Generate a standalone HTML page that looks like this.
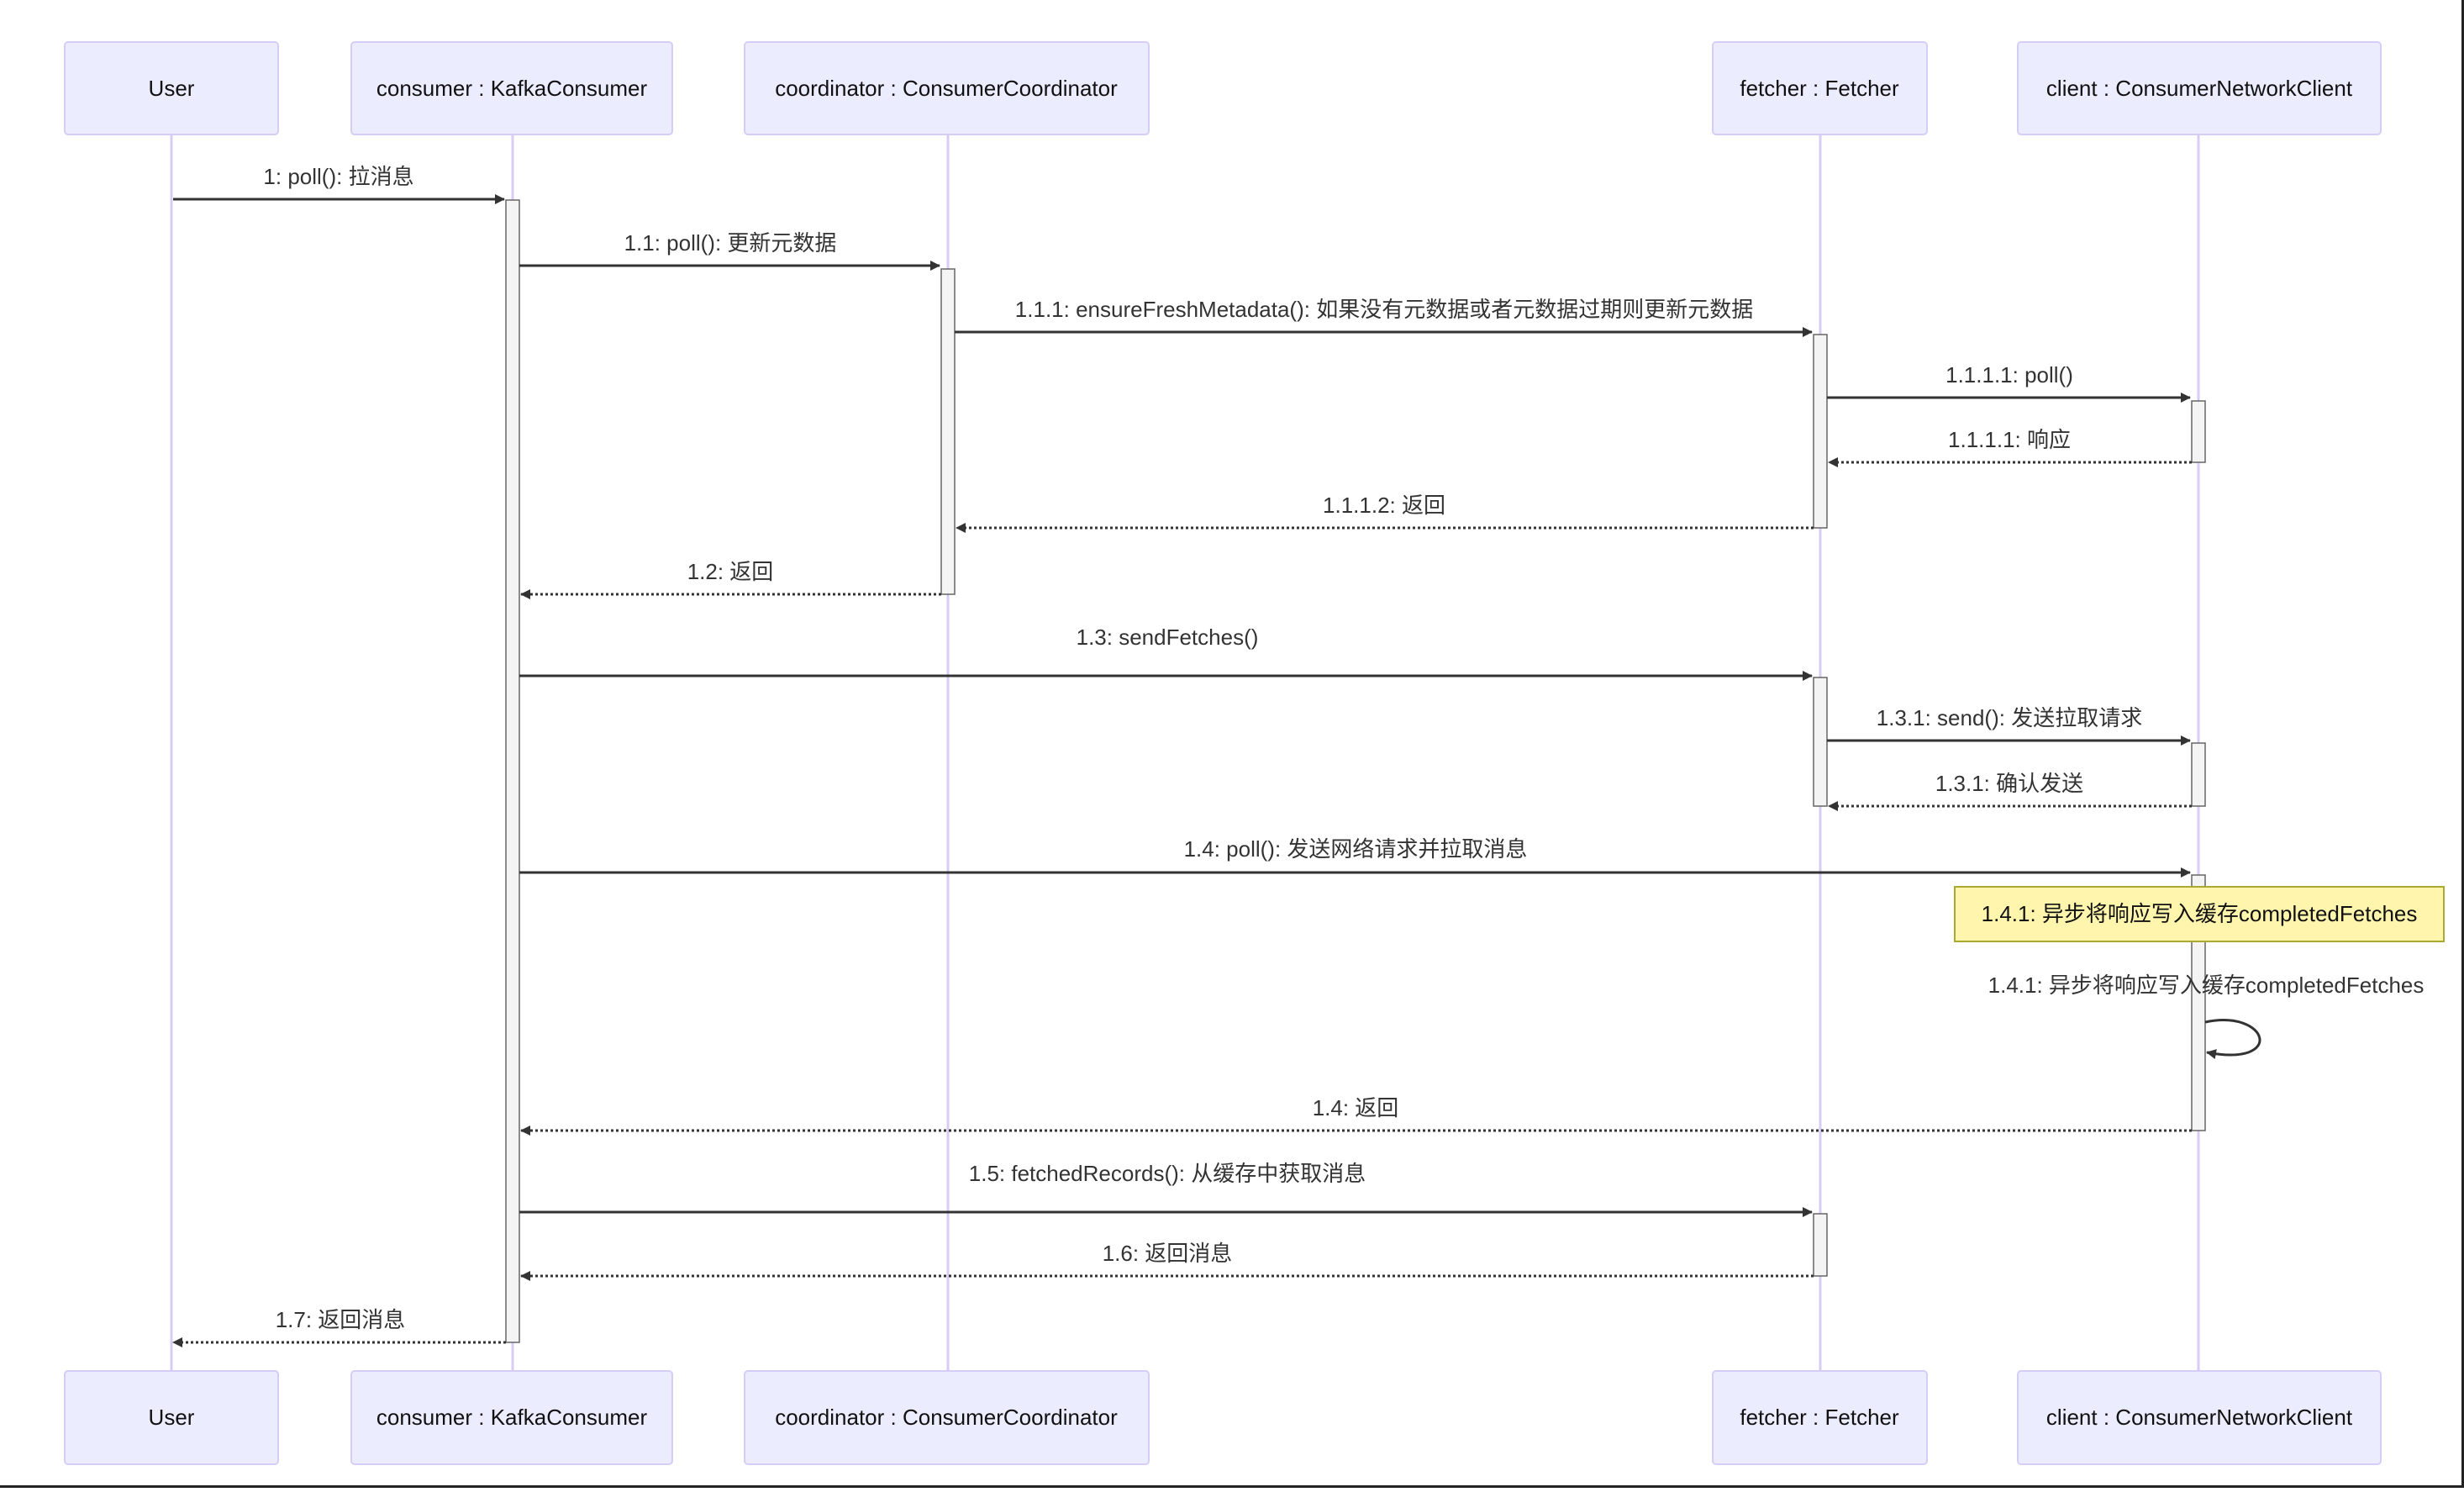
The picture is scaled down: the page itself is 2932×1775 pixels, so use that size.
<!DOCTYPE html>
<html><head><meta charset="utf-8"><style>
html,body{margin:0;padding:0;background:#fff;}
body{width:2932px;height:1770px;overflow:hidden;position:relative;}
svg text{font-family:"Liberation Sans","Noto Sans CJK SC",sans-serif;font-size:26px;fill:#333;}
</style></head><body>
<svg width="2932" height="1770" viewBox="0 0 2932 1770" xmlns="http://www.w3.org/2000/svg">
<defs>
<marker id="ah" markerWidth="12" markerHeight="12" refX="11" refY="6" orient="auto" markerUnits="userSpaceOnUse">
<path d="M0,0 L12,6 L0,12 Z" fill="#333"/></marker>
</defs>
<rect x="0" y="0" width="2932" height="1770" fill="#fff"/>
<line x1="0" y1="1768.5" x2="2932" y2="1768.5" stroke="#222" stroke-width="3"/>
<line x1="2930.5" y1="0" x2="2930.5" y2="1770" stroke="#222" stroke-width="3"/>
<g stroke="#d8ccf5" stroke-width="3">
<line x1="204" y1="159" x2="204" y2="1632"/>
<line x1="610" y1="159" x2="610" y2="1632"/>
<line x1="1128" y1="159" x2="1128" y2="1632"/>
<line x1="2166" y1="159" x2="2166" y2="1632"/>
<line x1="2616" y1="159" x2="2616" y2="1632"/>
</g>
<g fill="#ececff" stroke="#d6cdf6" stroke-width="2">
<rect x="77" y="50" width="254" height="110" rx="4"/>
<rect x="418" y="50" width="382" height="110" rx="4"/>
<rect x="886" y="50" width="481" height="110" rx="4"/>
<rect x="2038" y="50" width="255" height="110" rx="4"/>
<rect x="2401" y="50" width="432" height="110" rx="4"/>
<rect x="77" y="1631" width="254" height="111" rx="4"/>
<rect x="418" y="1631" width="382" height="111" rx="4"/>
<rect x="886" y="1631" width="481" height="111" rx="4"/>
<rect x="2038" y="1631" width="255" height="111" rx="4"/>
<rect x="2401" y="1631" width="432" height="111" rx="4"/>
</g>
<g text-anchor="middle" dominant-baseline="central">
<text x="204" y="105" style="fill:#111">User</text>
<text x="609" y="105" style="fill:#111">consumer : KafkaConsumer</text>
<text x="1126" y="105" style="fill:#111">coordinator : ConsumerCoordinator</text>
<text x="2165" y="105" style="fill:#111">fetcher : Fetcher</text>
<text x="2617" y="105" style="fill:#111">client : ConsumerNetworkClient</text>
<text x="204" y="1686" style="fill:#111">User</text>
<text x="609" y="1686" style="fill:#111">consumer : KafkaConsumer</text>
<text x="1126" y="1686" style="fill:#111">coordinator : ConsumerCoordinator</text>
<text x="2165" y="1686" style="fill:#111">fetcher : Fetcher</text>
<text x="2617" y="1686" style="fill:#111">client : ConsumerNetworkClient</text>
</g>
<g fill="#f4f4f4" stroke="#666" stroke-width="1.5">
<rect x="602" y="238" width="16" height="1359"/>
<rect x="1120" y="320" width="16" height="387"/>
<rect x="2158" y="398" width="16" height="230"/>
<rect x="2158" y="806" width="16" height="153"/>
<rect x="2158" y="1444" width="16" height="74"/>
<rect x="2608" y="477" width="16" height="73"/>
<rect x="2608" y="884" width="16" height="75"/>
<rect x="2608" y="1041" width="16" height="304"/>
</g>
<g stroke="#333" stroke-width="3" fill="none" marker-end="url(#ah)">
<line x1="206" y1="237" x2="600" y2="237"/>
<line x1="618" y1="316" x2="1118" y2="316"/>
<line x1="1136" y1="395" x2="2156" y2="395"/>
<line x1="2174" y1="473" x2="2606" y2="473"/>
<line x1="2608" y1="550" x2="2176" y2="550" stroke-dasharray="3,3"/>
<line x1="2158" y1="628" x2="1138" y2="628" stroke-dasharray="3,3"/>
<line x1="1120" y1="707" x2="620" y2="707" stroke-dasharray="3,3"/>
<line x1="618" y1="804" x2="2156" y2="804"/>
<line x1="2174" y1="881" x2="2606" y2="881"/>
<line x1="2608" y1="959" x2="2176" y2="959" stroke-dasharray="3,3"/>
<line x1="618" y1="1038" x2="2606" y2="1038"/>
<line x1="2608" y1="1345" x2="620" y2="1345" stroke-dasharray="3,3"/>
<line x1="618" y1="1442" x2="2156" y2="1442"/>
<line x1="2158" y1="1518" x2="620" y2="1518" stroke-dasharray="3,3"/>
<line x1="602" y1="1597" x2="206" y2="1597" stroke-dasharray="3,3"/>
<path d="M2624,1216 C2700,1200 2720,1270 2626,1252"/>
</g>
<rect x="2326" y="1055" width="582" height="65" fill="#fff5ad" stroke="#aaaa33" stroke-width="2"/>
<g text-anchor="middle" dominant-baseline="central">
<text x="2617" y="1087" style="fill:#111">1.4.1: 异步将响应写入缓存completedFetches</text>
<text x="2625" y="1172">1.4.1: 异步将响应写入缓存completedFetches</text>
<text x="403" y="210">1: poll(): 拉消息</text>
<text x="869" y="289">1.1: poll(): 更新元数据</text>
<text x="1647" y="368">1.1.1: ensureFreshMetadata(): 如果没有元数据或者元数据过期则更新元数据</text>
<text x="2391" y="446">1.1.1.1: poll()</text>
<text x="2391" y="523">1.1.1.1: 响应</text>
<text x="1647" y="601">1.1.1.2: 返回</text>
<text x="869" y="680">1.2: 返回</text>
<text x="1389" y="758">1.3: sendFetches()</text>
<text x="2391" y="854">1.3.1: send(): 发送拉取请求</text>
<text x="2391" y="932">1.3.1: 确认发送</text>
<text x="1613" y="1010">1.4: poll(): 发送网络请求并拉取消息</text>
<text x="1613" y="1318">1.4: 返回</text>
<text x="1389" y="1396">1.5: fetchedRecords(): 从缓存中获取消息</text>
<text x="1389" y="1491">1.6: 返回消息</text>
<text x="405" y="1570">1.7: 返回消息</text>
</g>
</svg>
</body></html>
